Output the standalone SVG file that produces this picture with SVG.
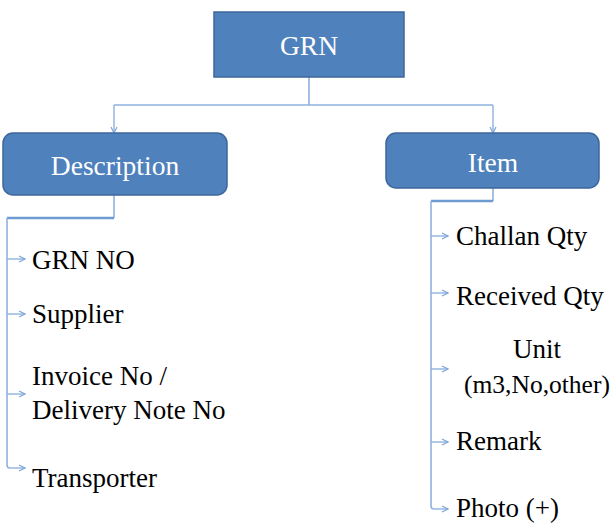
<svg xmlns="http://www.w3.org/2000/svg" width="614" height="523" viewBox="0 0 614 523">
  <defs>
    <marker id="chev" viewBox="0 0 8 8" refX="7" refY="4" markerWidth="8" markerHeight="8" markerUnits="userSpaceOnUse" orient="auto">
      <path d="M1,1 L7,4 L1,7" fill="none" stroke="#7fa6d8" stroke-width="1.2"/>
    </marker>
  </defs>
  <style>
    .box { fill: #4f81bd; stroke: #3c679a; stroke-width: 1.5; }
    .boxtext { font-size: 27.5px; fill: #ffffff; text-anchor: middle; }
    .item { font-size: 27px; fill: #000000; }
    .item.small { font-size: 25.5px; }
    .link { fill: none; stroke: #8fb2e0; stroke-width: 1.6; }
    .bar { fill: none; stroke: #6f9bd3; stroke-width: 2.4; }
    .tip { fill: none; stroke: #8fb2e0; stroke-width: 1.4; marker-end: url(#chev); }
  </style>
  <rect width="614" height="523" fill="#ffffff"/>

  <g id="connectors">
    <!-- root to the two branches -->
    <path class="link" d="M309,77 V105"/>
    <path class="link" d="M114,105 H493"/>
    <path class="tip" d="M114,105 V133"/>
    <path class="tip" d="M493,105 V133"/>
    <!-- Description list bracket -->
    <path class="link" d="M114,195 V218"/>
    <path class="bar" d="M7,218 H114"/>
    <path class="link" d="M7,218 V465 Q7,468 10,468"/>
    <path class="tip" d="M7,259 H25"/>
    <path class="tip" d="M7,314 H25"/>
    <path class="tip" d="M7,394 H25"/>
    <path class="tip" d="M10,468 H25"/>
    <!-- Item list bracket -->
    <path class="link" d="M493,188 V201"/>
    <path class="bar" d="M431,201 H493"/>
    <path class="link" d="M431,201 V506 Q431,509 434,509"/>
    <path class="tip" d="M431,236 H448"/>
    <path class="tip" d="M431,293 H448"/>
    <path class="tip" d="M431,369 H448"/>
    <path class="tip" d="M431,442 H448"/>
    <path class="tip" d="M434,509 H448"/>
  </g>

  <g font-family="'Liberation Serif', 'Times New Roman', Times, serif">
    <g id="grn">
      <rect class="box" x="214" y="12" width="190" height="65"/>
      <text class="boxtext" x="309" y="55">GRN</text>
    </g>

    <g id="description">
      <rect class="box" x="3" y="133" width="224" height="62" rx="10"/>
      <text class="boxtext" x="115" y="175">Description</text>
    </g>

    <g id="item">
      <rect class="box" x="386" y="133" width="213" height="55" rx="10"/>
      <text class="boxtext" x="493" y="172">Item</text>
    </g>

    <g id="desc-items">
      <text class="item" x="32" y="269">GRN NO</text>
      <text class="item" x="32" y="323">Supplier</text>
      <text class="item" x="32" y="385">Invoice No /</text>
      <text class="item" x="32" y="419">Delivery Note No</text>
      <text class="item" x="32" y="487">Transporter</text>
    </g>

    <g id="item-fields">
      <text class="item" x="456" y="245">Challan Qty</text>
      <text class="item" x="456" y="305">Received Qty</text>
      <text class="item" x="537" y="358" text-anchor="middle">Unit</text>
      <text class="item small" x="537" y="393" text-anchor="middle">(m3,No,other)</text>
      <text class="item" x="456" y="450">Remark</text>
      <text class="item" x="456" y="517">Photo (+)</text>
    </g>
  </g>
</svg>
